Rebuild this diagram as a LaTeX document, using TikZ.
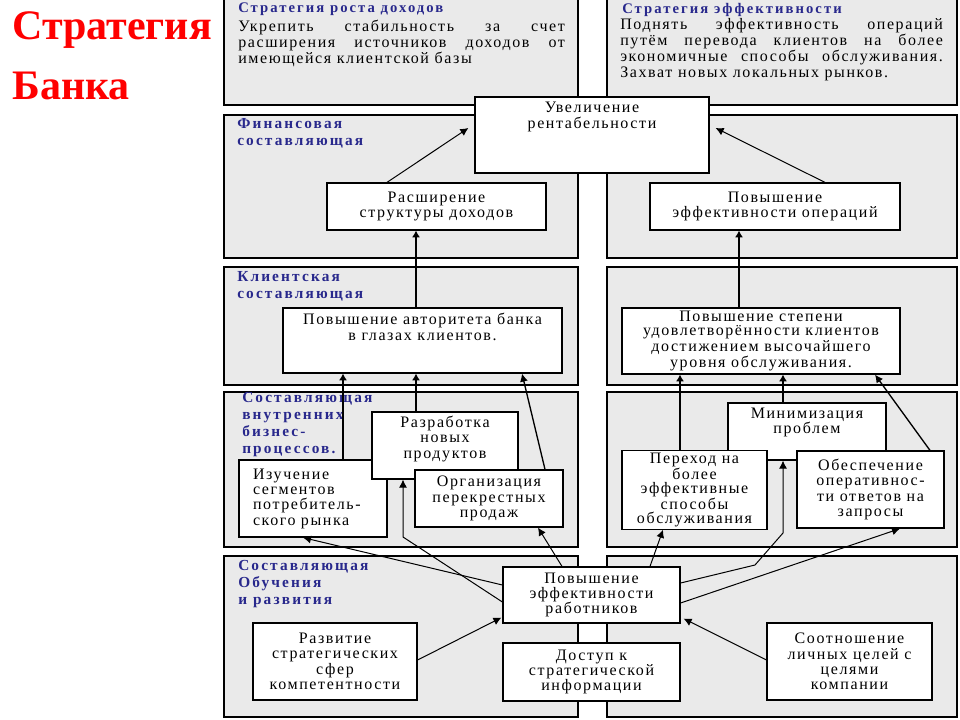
\documentclass[tikz,border=0pt]{standalone}
\usepackage{fontspec}
\setmainfont{Liberation Serif}
\newfontfamily\boxfont[LetterSpace = 10]{Liberation Serif}
\newfontfamily\headfont[LetterSpace = 14]{Liberation Serif Bold}
\usepackage{tikz}
\usetikzlibrary{calc, arrows.meta}
\definecolor{slideRed}{RGB}{255,0,0}
\definecolor{titleBlue}{RGB}{40,40,140}
\definecolor{panelGray}{RGB}{234,234,234}

\begin{document}
\begin{tikzpicture}[x = 0.75pt, y = -0.75pt,
	panel/.style = {draw, fill = panelGray, line width = 1.6pt},
	box/.style = {draw, fill = white, line width = 0.9pt, align = center, inner sep = 1.5pt, font = \boxfont\fontsize{12pt}{11.5pt}\selectfont},
	sz/.style 2 args = {minimum width = #1*0.75pt, minimum height = #2*0.75pt},
	slideTitle/.style = {anchor = base west, inner sep = 0pt, text = slideRed, font = \bfseries\fontsize{31.5pt}{36pt}\selectfont},
	partTitle/.style = {anchor = north west, align = left, inner sep = 0pt, text = titleBlue, font = \headfont\fontsize{11.5pt}{12.75pt}\selectfont},
	stratTitle/.style = {anchor = base west, inner sep = 0pt, text = titleBlue, font = \headfont\fontsize{11pt}{12pt}\selectfont},
	stratText/.style = {anchor = north west, align = left, inner sep = 0pt, font = \boxfont\fontsize{12pt}{12pt}\selectfont},
	thickArr/.style = {-{Latex[length = 5pt, width = 6pt]}, line width = 1.5pt},
	thinArr/.style = {-{Latex[length = 6pt, width = 6pt]}, line width = 0.75pt}]
					\def\lL{224};
					\def\lR{578};
					\def\rL{607};
					\def\rR{957};

					\useasboundingbox (0,0) rectangle (960,720);

					\foreach \yT/\yB in {-3/105, 115/258, 267/385, 392/547, 556/717} {
						\draw [panel] (\lL,\yT) rectangle (\lR,\yB);
						\draw [panel] (\rL,\yT) rectangle (\rR,\yB);
					}

					\node [slideTitle] (titleA) at (12,40) {Стратегия};
					\node [slideTitle] (titleB) at (12,100) {Банка};

					\node [stratTitle] (growthHead) at (238,13) {Стратегия роста доходов};
					\node [stratText] (growthText) at (238,19.5) {\hbox to 245pt{Укрепить\hfill стабильность\hfill за\hfill счет}\\\hbox to 245pt{расширения\hfill источников\hfill доходов\hfill от}\\имеющейся клиентской базы};
					\node [stratTitle] (effHead) at (622,14) {Стратегия эффективности};
					\node [stratText] (effText) at (620,18.5) {\hbox to 242pt{Поднять\hfill эффективность\hfill операций}\\\hbox to 242pt{путём\hfill перевода\hfill клиентов\hfill на\hfill более}\\\hbox to 242pt{экономичные\hfill способы\hfill обслуживания.}\\Захват новых локальных рынков.};

					\node [partTitle] (finPart) at (237,118) {Финансовая\\составляющая};
					\node [partTitle] (cliPart) at (237,271) {Клиентская\\составляющая};
					\node [partTitle] (procPart) at (242,392) {Составляющая\\внутренних\\бизнес-\\процессов.};
					\node [partTitle] (learnPart) at (238,560) {Составляющая\\Обучения\\и развития};

					\node [box, sz = {234}{76}] (uvel) at (592,135) {Увеличение\\рентабельности\\[18pt]\mbox{}};
					\node [box, sz = {219}{47}] (rassh) at (436.5,206.5) {Расширение\\структуры доходов};
					\node [box, sz = {250}{47}] (povOper) at (775,206.5) {Повышение\\эффективности операций};
					\node [box, sz = {279}{65}] (avtor) at (422.5,340.5) {Повышение авторитета банка\\в глазах клиентов.\\[9pt]\mbox{}};
					\node [box, sz = {278}{66}, font = \boxfont\fontsize{12pt}{10.5pt}\selectfont] (udovl) at (761,341) {Повышение степени\\удовлетворённости клиентов\\достижением высочайшего\\уровня обслуживания.};

					\node [box, sz = {148}{77}, align = left, text width = 90pt, inner xsep = 10.5pt] (izuch) at (313,498.5) {Изучение\\сегментов\\потребитель-\\ского рынка};
					\node [box, sz = {146}{67}] (razrab) at (445,445.5) {Разработка\\новых\\продуктов\\[1pt]\mbox{}};
					\node [box, sz = {148}{57}] (organiz) at (489,498.5) {Организация\\перекрестных\\продаж};
					\node [box, sz = {158}{57}] (minim) at (807,431.5) {Минимизация\\проблем\\[5pt]\mbox{}};
					\node [box, sz = {145}{76}, font = \boxfont\fontsize{12pt}{10.5pt}\selectfont] (perehod) at (694.5,490) {Переход на\\более\\эффективные\\способы\\обслуживания};
					\node [box, sz = {147}{77}] (obesp) at (870.5,489.5) {Обеспечение\\оперативнос-\\ти ответов на\\запросы};

					\node [box, sz = {177}{56}] (rabot) at (591.5,595) {Повышение\\эффективности\\работников};
					\node [box, sz = {177}{58}] (dostup) at (591.5,672) {Доступ к\\стратегической\\информации};
					\node [box, sz = {164}{77}] (razvit) at (335,661.5) {Развитие\\стратегических\\сфер\\компетентности};
					\node [box, sz = {165}{77}] (sootn) at (849.5,661.5) {Соотношение\\личных целей с\\целями\\компании};

					\coordinate (bendA) at (403,537);
					\coordinate (bendB) at (755,565);
					\coordinate (bendC) at (783,533);

					\begin{scope}[thickArr]
						\draw (avtor.north -| 416,0) -- (rassh.south -| 416,0);
						\draw (udovl.north -| 739,0) -- (povOper.south -| 739,0);
						\draw (izuch.north -| 343,0) -- (avtor.south -| 343,0);
						\draw (razrab.north -| 416,0) -- (avtor.south -| 416,0);
						\draw (perehod.north -| 680,0) -- (udovl.south -| 680,0);
						\draw (minim.north -| 783,0) -- (udovl.south -| 783,0);
					\end{scope}

					\begin{scope}[thinArr]
						\draw (rassh.north -| 387,0) -- ($(uvel.west)+(-6,-7)$);
						\draw (povOper.north -| 825,0) -- ($(uvel.east)+(6,-7)$);
						\draw [line width = 1pt] (organiz.north -| 545,0) -- (avtor.south -| 522,0);
						\draw [line width = 1pt] (obesp.north -| 930,0) -- (udovl.south -| 875,0);
						\draw (rabot.west |- 0,585) -- (izuch.south -| 303,0);
						\draw (rabot.west |- 0,602) -- (bendA) -- (razrab.south -| 403,0);
						\draw (rabot.north -| 562,0) -- (organiz.south -| 538,0);
						\draw (rabot.north -| 650,0) -- (perehod.south -| 663,0);
						\draw (rabot.east |- 0,583) -- (bendB) -- (bendC) -- (minim.south -| 783,0);
						\draw (rabot.east |- 0,603) -- (obesp.south -| 900,0);
						\draw (razvit.east |- 0,660) -- ($(rabot.south west)+(-1,-6)$);
						\draw (sootn.west |- 0,660) -- ($(rabot.south east)+(3,-5)$);
					\end{scope}
				\end{tikzpicture}
\end{document}
